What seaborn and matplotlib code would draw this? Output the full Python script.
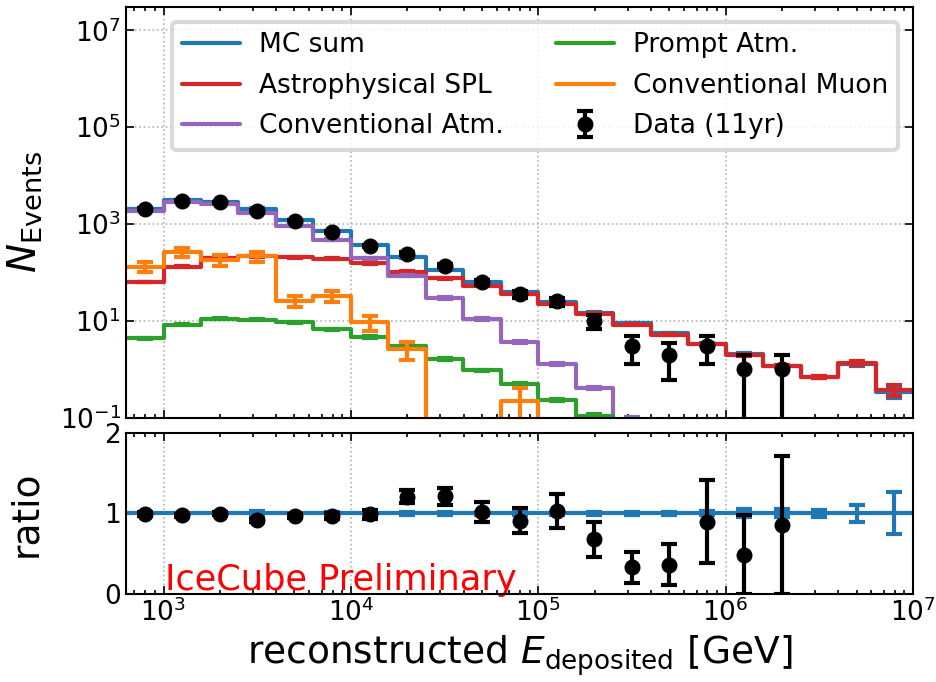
import numpy as np
import matplotlib
matplotlib.use("Agg")
import matplotlib.pyplot as plt
import seaborn as sns

# Binning in log10(E / GeV)
log_edges = [2.8, 3.0, 3.2, 3.4, 3.6, 3.8, 4.0, 4.2, 4.4, 4.6, 4.8,
             5.0, 5.2, 5.4, 5.6, 5.8, 6.0, 6.2, 6.4, 6.6, 6.8, 7.0]

# Observed events per bin (11 years)
data_counts = [2050, 3000, 2800, 1860, 1170, 680, 357, 245, 138, 63, 35,
               25, 10, 3, 2, 3, 1, 1]

# Expected events per bin
mc_sum = [2070, 3080, 2820, 2040, 1210, 700, 362, 203, 114, 62, 38.5,
          24.3, 14.7, 9.0, 5.5, 3.35, 2.05, 1.17, 0.69, 1.28, 0.34]
astro_spl = [63, 132, 197, 214, 205, 190, 155, 104, 76, 53, 35,
             22.4, 14.0, 8.3, 5.1, 3.3, 2.0, 1.14, 0.68, 1.34, 0.37]
conv_atm = [1850, 2880, 2560, 1710, 920, 477, 195, 85, 30, 11, 3.7,
            1.28, 0.41, 0.08, 0, 0, 0, 0, 0, 0, 0]
prompt_atm = [4.3, 8.3, 11, 10.5, 9.2, 6.7, 4.6, 2.95, 1.64, 0.94, 0.50,
              0.23, 0.11, 0.06, 0.04, 0.03, 0.02, 0.015, 0.01, 0.008, 0.006]
conv_muon = [132, 268, 181, 214, 26, 33, 9.2, 2.6, 0, 0, 0.22,
             0, 0, 0, 0, 0, 0, 0, 0, 0, 0]

# MC statistical uncertainties
conv_muon_err = [30, 58, 48, 54, 7, 9, 3.2, 1.05, 0, 0, 0.18,
                 0, 0, 0, 0, 0, 0, 0, 0, 0, 0]
mc_rel_err = [0.01, 0.01, 0.01, 0.035, 0.01, 0.015, 0.02, 0.02, 0.02, 0.02, 0.02,
              0.02, 0.02, 0.02, 0.02, 0.025, 0.05, 0.05, 0.048, 0.11, 0.26]
astro_rel_err = [0.02, 0.02, 0.02, 0.02, 0.02, 0.02, 0.02, 0.02, 0.02, 0.02, 0.02,
                 0.02, 0.02, 0.02, 0.02, 0.025, 0.05, 0.05, 0.048, 0.11, 0.26]
conv_rel_err = [0.01, 0.01, 0.01, 0.01, 0.01, 0.015, 0.02, 0.03, 0.04, 0.05, 0.05,
                0.06, 0.06, 0.3, 0, 0, 0, 0, 0, 0, 0]
prompt_rel_err = [0.02, 0.02, 0.02, 0.02, 0.02, 0.02, 0.03, 0.03, 0.04, 0.04, 0.05,
                  0.05, 0.05, 0.05, 0.05, 0.05, 0.05, 0.05, 0.05, 0.05, 0.05]

labels = ["MC sum", "Astrophysical SPL", "Conventional Atm.",
          "Prompt Atm.", "Conventional Muon", "Data (11yr)"]
colors = ["#1f77b4", "#d62728", "#9467bd", "#2ca02c", "#ff7f0e"]

sns.set_theme(style="ticks")
plt.rcParams.update({
    "font.family": ["DejaVu Sans"],
    "mathtext.fontset": "dejavusans",
    "axes.linewidth": 1.5,
    "axes.edgecolor": "black",
    "axes.labelcolor": "black",
    "text.color": "black",
    "xtick.color": "black",
    "ytick.color": "black",
})

edges = 10.0 ** np.array(log_edges)
centers = 10.0 ** (0.5 * (np.array(log_edges[:-1]) + np.array(log_edges[1:])))
n_data = len(data_counts)

fig = plt.figure(figsize=(9.37, 6.82), dpi=100)
ax = fig.add_axes([0.1345, 0.3878, 0.8399, 0.6015])
rax = fig.add_axes([0.1345, 0.1290, 0.8399, 0.2365], sharex=ax)
for a in (ax, rax):
    a.set_xscale("log")
ax.set_yscale("log")

LW = 3
MS = 10.5
ERR_KW = dict(fmt="none", elinewidth=LW, capsize=6, capthick=LW)


def step_hist(axis, values, color, z):
    vals = np.asarray(values, dtype=float)
    sns.lineplot(x=edges, y=np.append(vals, vals[-1]), drawstyle="steps-post",
                 color=color, linewidth=LW, estimator=None, sort=False,
                 legend=False, ax=axis, zorder=z)
    return axis.lines[-1]


def mc_errors(axis, values, errs, color, z):
    vals = np.asarray(values, dtype=float)
    errs = np.asarray(errs, dtype=float)
    keep = vals > 0
    axis.errorbar(centers[keep], vals[keep], yerr=errs[keep], ecolor=color,
                  zorder=z, **ERR_KW)


# Upper panel: event counts
components = [
    (mc_sum, np.array(mc_sum) * np.array(mc_rel_err)),
    (astro_spl, np.array(astro_spl) * np.array(astro_rel_err)),
    (conv_atm, np.array(conv_atm) * np.array(conv_rel_err)),
    (prompt_atm, np.array(prompt_atm) * np.array(prompt_rel_err)),
    (conv_muon, conv_muon_err),
]
handles = []
for i, ((vals, errs), col) in enumerate(zip(components, colors)):
    handles.append(step_hist(ax, vals, col, 2 + i))
    mc_errors(ax, vals, errs, col, 2 + i)

data = np.array(data_counts, dtype=float)
data_err = np.sqrt(data)
data_h = ax.errorbar(centers[:n_data], data, yerr=data_err, fmt="o", color="black",
                     ms=MS, elinewidth=LW, capsize=6, capthick=LW, zorder=10)
handles.append(data_h)

ax.set_xlim(edges[0], edges[-1])
ax.set_ylim(0.1, 3e7)
ax.set_yticks([1e-1, 1e1, 1e3, 1e5, 1e7])
ax.yaxis.set_minor_locator(matplotlib.ticker.NullLocator())
ax.set_ylabel(r"$N_{\rm Events}$", fontsize=28)
plt.setp(ax.get_xticklabels(), visible=False)

leg = ax.legend(handles, labels, ncol=2, loc="upper right", fontsize=19,
                frameon=True, fancybox=True, handlelength=2.2,
                handletextpad=0.7, labelspacing=0.55, columnspacing=2.0,
                borderaxespad=0.55)
leg.get_frame().set_edgecolor("0.82")
leg.get_frame().set_linewidth(3)
leg.set_zorder(20)

# Lower panel: data / MC
mc = np.array(mc_sum, dtype=float)
step_hist(rax, mc / mc, colors[0], 2)
mc_errors(rax, mc / mc, np.array(mc_rel_err), colors[0], 3)
ratio = data / mc[:n_data]
ratio_err = data_err / mc[:n_data]
rax.errorbar(centers[:n_data], ratio, yerr=ratio_err, fmt="o", color="black",
             ms=MS, elinewidth=LW, capsize=6, capthick=LW, zorder=10)
rax.set_ylim(0, 2)
rax.set_yticks([0, 1, 2])
rax.set_ylabel("ratio", fontsize=27)
rax.set_xlabel(r"reconstructed $E_{\rm deposited}$ [GeV]", fontsize=27)
rax.text(0.05, 0.028, "IceCube Preliminary", color="red", fontsize=25.3,
         transform=rax.transAxes, va="baseline", ha="left", zorder=12)

for a in (ax, rax):
    a.tick_params(which="both", direction="in", top=True, right=True,
                  labelsize=19, width=1.2)
    a.tick_params(which="major", length=5.5)
    a.tick_params(which="minor", length=3)
    a.grid(True, which="major", linestyle=":", color="0.7", linewidth=1.2)
    a.set_axisbelow(True)
    for s in a.spines.values():
        s.set_linewidth(1.5)
        s.set_zorder(15)

# Put both y labels on a common right edge
ax.yaxis.set_label_coords(-0.104, 0.5)
rax.yaxis.set_label_coords(-0.104, 0.5)

fig.savefig("out.png", dpi=100)
